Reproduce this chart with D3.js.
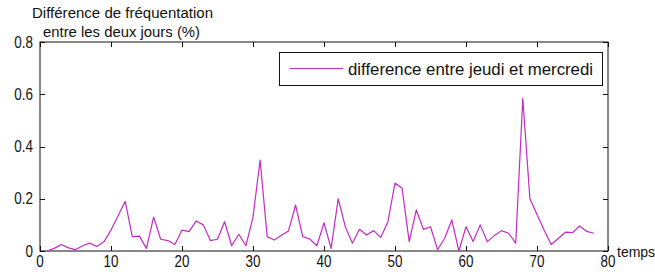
<!DOCTYPE html>
<html><head><meta charset="utf-8">
<script src="https://cdn.jsdelivr.net/npm/d3@7"></script>
<style>body{margin:0;background:#fff}svg{display:block}</style>
</head><body>
<svg id="c" width="655" height="279"></svg>
<script>
const times = d3.range(1, 79);
const diffValues = [0.0,0.01,0.025,0.012,0.005,0.02,0.03,0.017,0.035,0.08,
0.135,0.19,0.055,0.057,0.01,0.13,0.045,0.04,0.025,0.08,
0.074,0.115,0.1,0.04,0.045,0.112,0.02,0.064,0.02,0.13,
0.348,0.055,0.042,0.06,0.077,0.176,0.055,0.046,0.02,0.108,
0.01,0.2,0.093,0.03,0.083,0.061,0.078,0.052,0.112,0.26,
0.24,0.036,0.157,0.083,0.093,0.005,0.049,0.119,0.0,0.093,
0.036,0.1,0.036,0.059,0.078,0.068,0.03,0.584,0.2,0.14,
0.08,0.025,0.048,0.072,0.07,0.096,0.075,0.068];
const xTicks = [0,10,20,30,40,50,60,70,80];
const yTicks = [0,0.2,0.4,0.6,0.8];
const yTickLabels = ["0","0.2","0.4","0.6","0.8"];
const seriesName = "difference entre jeudi et mercredi";
const yTitle = ["Différence de fréquentation","entre les deux jours (%)"];
const xTitle = "temps";

const svg = d3.select("#c");
const L=40, R=608, T=42, B=251;
const x = d3.scaleLinear().domain([0,80]).range([L,R]);
const y = d3.scaleLinear().domain([0,0.8]).range([B,T]);
const font = "'Liberation Sans', Arial, sans-serif";
const ink = "#111";

// frame
svg.append("rect").attr("x",L).attr("y",T).attr("width",R-L).attr("height",B-T)
  .attr("fill","none").attr("stroke",ink).attr("stroke-width",1);

// ticks (inward, all four sides)
const tl = 5;
xTicks.forEach(t=>{
  const px = Math.round(x(t))+0.5;
  svg.append("line").attr("x1",px).attr("x2",px).attr("y1",B).attr("y2",B-tl).attr("stroke",ink);
  svg.append("line").attr("x1",px).attr("x2",px).attr("y1",T).attr("y2",T+tl).attr("stroke",ink);
});
yTicks.forEach(t=>{
  const py = Math.round(y(t))+0.5;
  svg.append("line").attr("x1",L).attr("x2",L+tl).attr("y1",py).attr("y2",py).attr("stroke",ink);
  svg.append("line").attr("x1",R).attr("x2",R-tl).attr("y1",py).attr("y2",py).attr("stroke",ink);
});

// tick labels (narrow look)
const sx = 0.84;
xTicks.forEach(t=>{
  svg.append("text").attr("transform",`translate(${x(t)},267) scale(${sx},1)`)
    .attr("text-anchor","middle").attr("font-family",font).attr("font-size",16)
    .attr("fill",ink).text(t);
});
yTicks.forEach((t,i)=>{
  svg.append("text").attr("transform",`translate(33,${y(t)+5.5}) scale(${sx},1)`)
    .attr("text-anchor","end").attr("font-family",font).attr("font-size",16)
    .attr("fill",ink).text(yTickLabels[i]);
});

// titles
svg.append("text").attr("x",32).attr("y",18).attr("font-family",font).attr("font-size",14)
  .attr("textLength",181).attr("lengthAdjust","spacingAndGlyphs").attr("fill",ink).text(yTitle[0]);
svg.append("text").attr("x",43).attr("y",37).attr("font-family",font).attr("font-size",14)
  .attr("textLength",157).attr("lengthAdjust","spacingAndGlyphs").attr("fill",ink).text(yTitle[1]);
svg.append("text").attr("x",617).attr("y",257).attr("font-family",font).attr("font-size",14)
  .attr("fill",ink).text(xTitle);

// line
const lineColor = "#c42ac4";
const line = d3.line().x((d,i)=>x(times[i])).y(d=>y(d));
svg.append("path").datum(diffValues).attr("d",line).attr("fill","none")
  .attr("stroke",lineColor).attr("stroke-width",1.2).attr("stroke-linejoin","round");

// legend
svg.append("rect").attr("x",279.5).attr("y",52.5).attr("width",323).attr("height",33)
  .attr("fill","#fff").attr("stroke",ink);
svg.append("line").attr("x1",290).attr("x2",343).attr("y1",68.5).attr("y2",68.5)
  .attr("stroke",lineColor).attr("stroke-width",1.2);
svg.append("text").attr("x",348).attr("y",75).attr("font-family",font).attr("font-size",16)
  .attr("textLength",245).attr("lengthAdjust","spacingAndGlyphs").attr("fill",ink).text(seriesName);
</script>
</body></html>
